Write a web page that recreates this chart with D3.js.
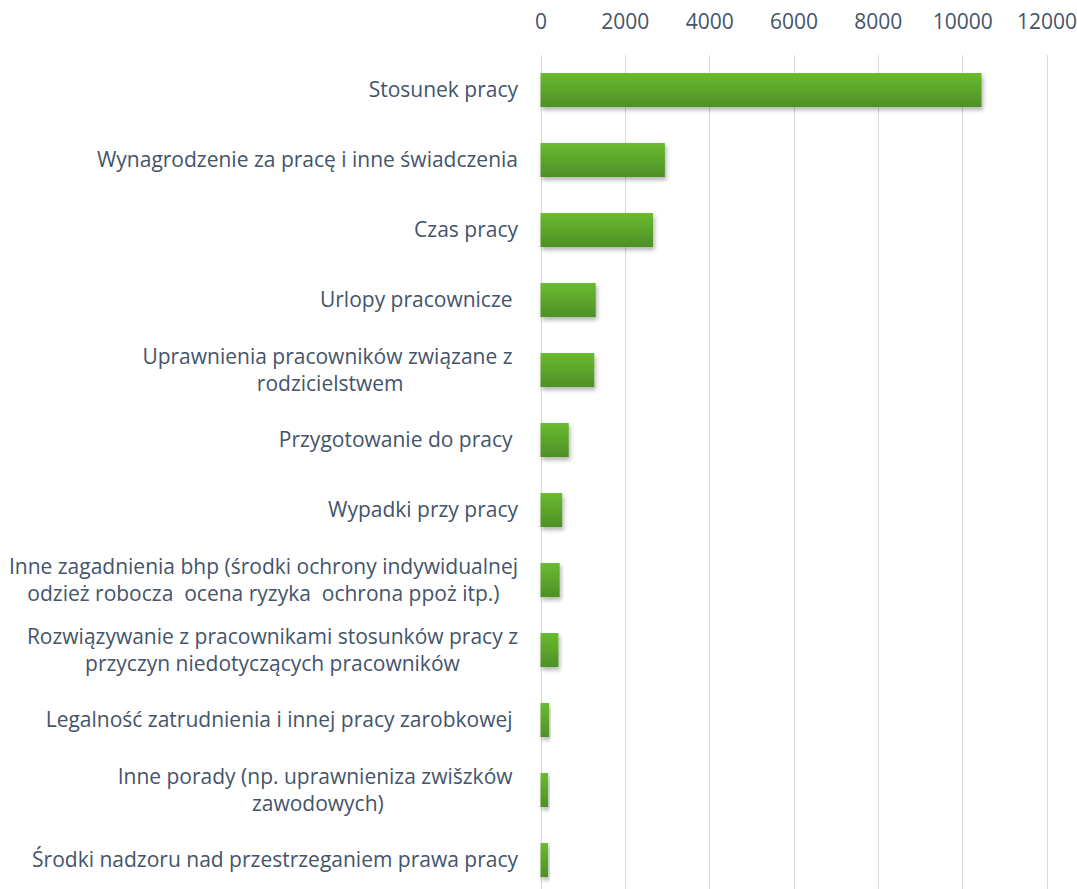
<!DOCTYPE html>
<html>
<head>
<meta charset="utf-8">
<script src="https://cdn.jsdelivr.net/npm/d3@7"></script>
<style>
  body { margin: 0; background: #fff; }
  svg { display: block; }
  text { font-family: "Open Sans", sans-serif; fill: #44546a; white-space: pre; }
</style>
</head>
<body>
<svg id="svg" width="1077" height="889"></svg>
<script>
// categories, top to bottom; "\n" marks where the label wraps
var categories = [
  "Stosunek pracy",
  "Wynagrodzenie za pracę i inne świadczenia",
  "Czas pracy",
  "Urlopy pracownicze ",
  "Uprawnienia pracowników związane z \nrodzicielstwem",
  "Przygotowanie do pracy ",
  "Wypadki przy pracy",
  "Inne zagadnienia bhp (środki ochrony indywidualnej\nodzież robocza  ocena ryzyka  ochrona ppoż itp.)",
  "Rozwiązywanie z pracownikami stosunków pracy z\nprzyczyn niedotyczących pracowników",
  "Legalność zatrudnienia i innej pracy zarobkowej ",
  "Inne porady (np. uprawnieniza zwišzków \nzawodowych)",
  "Środki nadzoru nad przestrzeganiem prawa pracy"
];
var values = [10460, 2950, 2670, 1310, 1275, 670, 515, 455, 425, 205, 180, 180];
var tickValues = [0, 2000, 4000, 6000, 8000, 10000, 12000];

var svg = d3.select("#svg");
var labelRight = 518;
var fontSize = "21px";

var x = d3.scaleLinear().domain([0, 12000]).range([540.5, 1046.5]);
var y = d3.scaleBand().domain(categories).range([55, 895])
  .paddingInner(0.514).paddingOuter(0.257);

var defs = svg.append("defs");
var grad = defs.append("linearGradient").attr("id", "barGrad")
  .attr("x1", 0).attr("y1", 0).attr("x2", 0).attr("y2", 1);
grad.append("stop").attr("offset", "0%").attr("stop-color", "#6abb30");
grad.append("stop").attr("offset", "100%").attr("stop-color", "#4e9027");
var shadow = defs.append("filter").attr("id", "shadow")
  .attr("x", "-10%").attr("y", "-20%").attr("width", "130%").attr("height", "160%");
shadow.append("feDropShadow").attr("dx", 1.5).attr("dy", 3).attr("stdDeviation", 2)
  .attr("flood-color", "#000").attr("flood-opacity", 0.3);

// gridlines
svg.append("g").selectAll("line").data(tickValues).join("line")
  .attr("x1", d => Math.round(x(d)) + 0.5).attr("x2", d => Math.round(x(d)) + 0.5)
  .attr("y1", 55).attr("y2", 889)
  .attr("stroke", "#d9d9d9").attr("stroke-width", 1);

// top axis labels
var axis = svg.append("g").attr("transform", "translate(0,22)")
  .call(d3.axisTop(x).tickValues(tickValues).tickSize(0).tickPadding(0).tickFormat(d3.format("d")));
axis.select(".domain").remove();
axis.selectAll("text").style("font-family", "\"Open Sans\", sans-serif")
  .style("font-size", fontSize).attr("fill", "#44546a").attr("dy", "0.35em")
  .attr("y", 0);

// bars
svg.append("g").selectAll("rect").data(values).join("rect")
  .attr("x", x(0))
  .attr("y", (d, i) => y(categories[i]))
  .attr("width", d => x(d) - x(0))
  .attr("height", y.bandwidth())
  .attr("fill", "url(#barGrad)")
  .attr("filter", "url(#shadow)");

// category labels
var labels = svg.append("g").selectAll("text").data(categories).join("text")
  .style("font-size", fontSize);
labels.each(function(d) {
  var t = d3.select(this);
  var lines = d.split("\n");
  var cy = y(d) + y.bandwidth() / 2;
  var lh = 27;
  lines.forEach(function(line, j) {
    t.append("tspan").attr("y", cy + (j - (lines.length - 1) / 2) * lh)
      .attr("dy", "0.35em").text(line);
  });
  // right-align the block, center the lines within it
  var w = d3.max(t.selectAll("tspan").nodes(), n => n.getComputedTextLength());
  t.attr("text-anchor", "middle");
  t.selectAll("tspan").attr("x", labelRight - w / 2);
});
</script>
</body>
</html>
